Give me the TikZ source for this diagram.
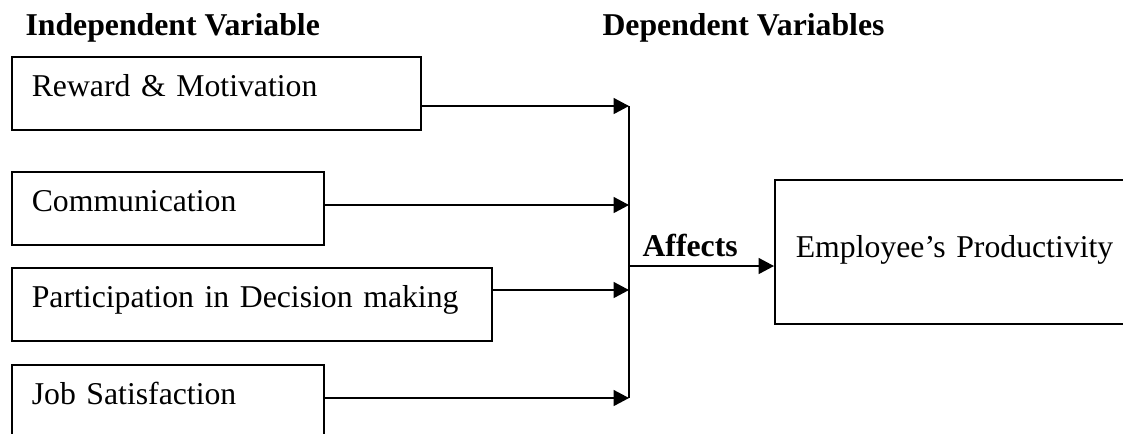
\documentclass[tikz,border=0pt]{standalone}
\usepackage{fontspec}
\setmainfont{Liberation Serif}
\usetikzlibrary{arrows.meta}
\tikzset{
    varbox/.style={draw, line width=0.6pt, anchor=north west, inner xsep=7.56pt, inner ysep=0pt,
        text height=15.12pt, text depth=12.47pt, text width=#1, align=left},
    prodbox/.style={draw, line width=0.6pt, anchor=north west, inner xsep=7.94pt, inner ysep=0pt,
        text height=29.5pt, text depth=24.9pt, text width=130pt, align=left},
    heading/.style={anchor=base west, inner sep=0pt, font=\fontsize{12pt}{14pt}\selectfont\bfseries},
    link/.style={-{Triangle[length=5.8pt,width=6pt]}, line width=0.6pt},
    bus/.style={line width=0.6pt}
}
\begin{document}
\begin{tikzpicture}[x=0.378pt, y=-0.378pt, font=\fontsize{12pt}{14pt}\selectfont]
            \useasboundingbox (0,0) rectangle (1123,433);
            \clip (0,0) rectangle (1123,433);
            % headings
            \node[heading] (indep) at (25,35) {Independent Variable};
            \node[heading] (dep) at (602,35) {Dependent Variables};
            % independent variables
            \node[varbox=139.5pt] (reward) at (11,56) {Reward \& Motivation};
            \node[varbox=102.8pt] (comm) at (11,171) {Communication};
            \node[varbox=166.3pt] (part) at (11,267) {Participation in Decision making};
            \node[varbox=102.8pt] (job) at (11,364) {Job Satisfaction};
            % dependent variable
            \node[prodbox] (prod) at (774,179) {Employee’s Productivity};
            % joining line
            \coordinate (j1) at (629,106);
            \coordinate (j2) at (629,205);
            \coordinate (j3) at (629,290);
            \coordinate (j4) at (629,398);
            \coordinate (aff) at (629,266);
            \draw[bus] (j1)--(j4);
            \foreach \b/\j in {reward/j1,comm/j2,part/j3,job/j4}
                {
                    \draw[link] (\b.east |- \j)--(\j);
                }
            \draw[link] (aff)--(aff -| prod.west);
            \node[heading] (affects) at (642,256) {Affects};
        \end{tikzpicture}
\end{document}
